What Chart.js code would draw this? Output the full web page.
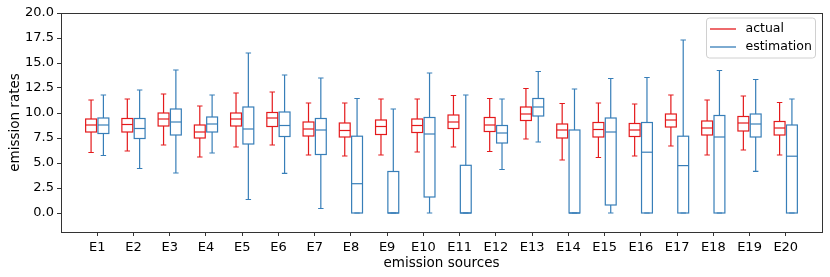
<!DOCTYPE html>
<html><head><meta charset="utf-8">
<script src="https://cdn.jsdelivr.net/npm/chart.js@4.4.0/dist/chart.umd.min.js"></script>
<style>html,body{margin:0;padding:0;background:#fff;}#wrap{width:830px;height:277px;}</style>
</head><body><div id="wrap"><canvas id="c" width="830" height="277"></canvas></div>
<script>
const categories = ["E1","E2","E3","E4","E5","E6","E7","E8","E9","E10","E11","E12","E13","E14","E15","E16","E17","E18","E19","E20"];
const seriesNames = ["actual","estimation"];
const yTicks = [0,2.5,5,7.5,10,12.5,15,17.5,20];

const actualMin = [6.05,6.2,6.8,5.6,6.6,6.8,5.8,5.7,5.8,6.1,6.6,6.15,7.4,5.3,5.55,5.7,6.7,5.8,6.3,5.8];
const actualQ1  = [8.1,8.1,8.7,7.5,8.7,8.65,7.7,7.6,7.85,8.05,8.45,8.15,9.25,7.5,7.6,7.65,8.6,7.8,8.2,7.8];
const actualMed = [8.8,8.85,9.4,8.1,9.4,9.5,8.4,8.25,8.65,8.75,9.1,8.8,9.9,8.3,8.35,8.3,9.3,8.5,9.0,8.5];
const actualQ3  = [9.4,9.45,10.0,8.8,10.0,10.05,9.1,9.0,9.3,9.4,9.8,9.55,10.6,8.9,9.05,8.95,9.9,9.2,9.65,9.15];
const actualMax = [11.3,11.4,11.9,10.7,12.0,12.1,11.0,11.0,11.4,11.4,11.75,11.45,12.45,10.95,11.0,10.9,11.8,11.3,11.7,11.05];

const estMin = [5.75,4.45,4.0,6.0,1.35,3.97,0.45,0,0,0,0,4.35,7.1,0,0,0,0,0,4.17,0];
const estQ1  = [7.95,7.45,7.8,8.1,6.9,7.65,5.85,0,0,1.6,0,7.0,9.7,0,0.8,0,0,0,7.6,0];
const estMed = [8.8,8.45,9.1,8.9,8.4,8.75,8.3,2.93,0,7.9,0,8.0,10.6,0,8.1,6.08,4.74,7.6,8.9,5.68];
const estQ3  = [9.5,9.45,10.4,9.6,10.6,10.1,9.45,7.68,4.15,9.55,4.77,8.75,11.45,8.3,9.5,9.05,7.68,9.75,9.9,8.8];
const estMax = [11.8,12.3,14.3,11.8,16.0,13.8,13.5,11.45,10.4,14.0,11.8,11.4,14.15,12.4,13.45,13.55,17.3,14.25,13.35,11.4];

const colors = ["#e41a1c","#377eb8"];
const offsets = [-0.17, 0.17];
const boxW = 0.3;

const stats = [
  {min: actualMin, q1: actualQ1, med: actualMed, q3: actualQ3, max: actualMax},
  {min: estMin, q1: estQ1, med: estMed, q3: estQ3, max: estMax}
];

const datasets = stats.map((s, k) => ({
  label: seriesNames[k],
  data: categories.map((c, i) => ({x: i + 1 + offsets[k], y: s.med[i]})),
  borderColor: colors[k],
  backgroundColor: colors[k],
  pointRadius: 0,
  showLine: false
}));

const boxPlugin = {
  id: 'boxes',
  afterDatasetsDraw(chart) {
    const ctx = chart.ctx, xs = chart.scales.x, ys = chart.scales.y, ca = chart.chartArea;
    ctx.save();
    ctx.beginPath(); ctx.rect(ca.left, ca.top, ca.right - ca.left, ca.bottom - ca.top); ctx.clip();
    const hw = Math.abs(xs.getPixelForValue(boxW / 2) - xs.getPixelForValue(0));
    stats.forEach((s, k) => {
      ctx.strokeStyle = colors[k];
      ctx.lineWidth = 1.2;
      categories.forEach((c, i) => {
        const cx = xs.getPixelForValue(i + 1 + offsets[k]);
        const pMin = ys.getPixelForValue(s.min[i]), pQ1 = ys.getPixelForValue(s.q1[i]);
        const pMed = ys.getPixelForValue(s.med[i]), pQ3 = ys.getPixelForValue(s.q3[i]);
        const pMax = ys.getPixelForValue(s.max[i]);
        ctx.beginPath();
        ctx.moveTo(cx, pQ1); ctx.lineTo(cx, pMin);
        ctx.moveTo(cx, pQ3); ctx.lineTo(cx, pMax);
        ctx.moveTo(cx - hw / 2, pMin); ctx.lineTo(cx + hw / 2, pMin);
        ctx.moveTo(cx - hw / 2, pMax); ctx.lineTo(cx + hw / 2, pMax);
        ctx.stroke();
        ctx.strokeRect(cx - hw, pQ3, 2 * hw, pQ1 - pQ3);
        ctx.beginPath();
        ctx.moveTo(cx - hw, pMed); ctx.lineTo(cx + hw, pMed);
        ctx.stroke();
      });
    });
    ctx.restore();
  },
  afterDraw(chart) {
    const ctx = chart.ctx, ca = chart.chartArea;
    ctx.save();
    // frame
    ctx.strokeStyle = '#333'; ctx.lineWidth = 1;
    ctx.strokeRect(Math.round(ca.left) + 0.5, Math.round(ca.top) + 0.5, Math.round(ca.right - ca.left), Math.round(ca.bottom - ca.top));
    // legend
    const bw = 109, bh = 40;
    const bx = ca.right - 7 - bw, by = ca.top + 4.5;
    ctx.fillStyle = 'rgba(255,255,255,0.8)';
    ctx.strokeStyle = '#d0d0d0';
    ctx.beginPath();
    ctx.roundRect(bx + 0.5, by + 0.5, bw, bh, 3);
    ctx.fill(); ctx.stroke();
    ctx.font = '12.5px "DejaVu Sans"';
    ctx.textBaseline = 'middle';
    seriesNames.forEach((n, k) => {
      const yy = by + 11.5 + k * 18;
      ctx.strokeStyle = colors[k]; ctx.lineWidth = 1.3;
      ctx.beginPath(); ctx.moveTo(bx + 4, yy); ctx.lineTo(bx + 30, yy); ctx.stroke();
      ctx.fillStyle = '#000';
      ctx.fillText(n, bx + 39.5, yy);
    });
    ctx.restore();
  }
};

new Chart(document.getElementById('c'), {
  type: 'scatter',
  data: { datasets },
  options: {
    responsive: false,
    animation: false,
    devicePixelRatio: 1,
    layout: { padding: { top: 13, right: 8, left: 0, bottom: 0 } },
    plugins: { legend: { display: false }, tooltip: { enabled: false } },
    scales: {
      x: {
        type: 'linear', min: 0, max: 21,
        afterBuildTicks: s => { s.ticks = categories.map((c, i) => ({ value: i + 1 })); },
        afterFit: s => { s.height = 45; },
        ticks: { autoSkip: false, maxRotation: 0, padding: 3.5, color: '#000',
          font: { family: 'DejaVu Sans', size: 13 },
          callback: v => categories[Math.round(v) - 1] },
        grid: { display: true, drawOnChartArea: false, drawTicks: true, tickLength: 4, color: '#333' },
        border: { display: true, color: '#333' },
        title: { display: true, text: 'emission sources', color: '#000',
          font: { family: 'DejaVu Sans', size: 13.5 }, padding: { top: 0, bottom: 5.5 } }
      },
      y: {
        type: 'linear', min: -1.9, max: 20,
        afterBuildTicks: s => { s.ticks = yTicks.map(v => ({ value: v })); },
        afterFit: s => { s.width = 61; },
        ticks: { padding: 3, color: '#000', font: { family: 'DejaVu Sans', size: 13 },
          callback: v => Number(v).toFixed(1) },
        grid: { display: true, drawOnChartArea: false, drawTicks: true, tickLength: 4, color: '#333' },
        border: { display: true, color: '#333' },
        title: { display: true, text: 'emission rates', color: '#000',
          font: { family: 'DejaVu Sans', size: 13.5 }, padding: { top: 7, bottom: 0 } }
      }
    }
  },
  plugins: [boxPlugin]
});
</script>
</body></html>
